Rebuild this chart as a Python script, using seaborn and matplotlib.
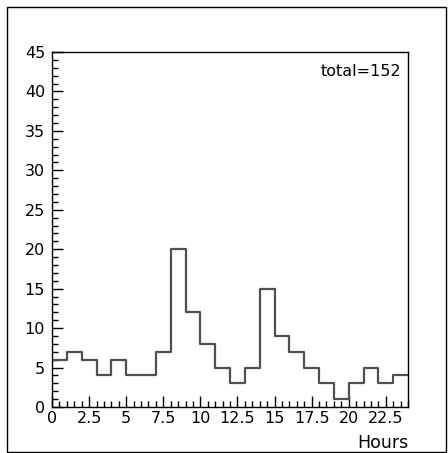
import numpy as np
import pandas as pd
import matplotlib
matplotlib.use("Agg")
import matplotlib.pyplot as plt
from matplotlib.ticker import MultipleLocator
from matplotlib.patches import Rectangle
import seaborn as sns

hours = [0.5, 1.5, 2.5, 3.5, 4.5, 5.5, 6.5, 7.5, 8.5, 9.5, 10.5, 11.5,
         12.5, 13.5, 14.5, 15.5, 16.5, 17.5, 18.5, 19.5, 20.5, 21.5, 22.5, 23.5]
counts = [6, 7, 6, 4, 6, 4, 4, 7, 20, 12, 8, 5,
          3, 5, 15, 9, 7, 5, 3, 1, 3, 5, 3, 4]
bin_edges = list(range(25))
x_ticks = [0, 2.5, 5, 7.5, 10, 12.5, 15, 17.5, 20, 22.5]
x_tick_labels = ["0", "2.5", "5", "7.5", "10", "12.5", "15", "17.5", "20", "22.5"]
y_ticks = [0, 5, 10, 15, 20, 25, 30, 35, 40, 45]

df = pd.DataFrame({"Hours": hours, "count": counts})

sns.set_style("white")
plt.rcParams["font.family"] = ["DejaVu Sans"]
plt.rcParams["text.color"] = "black"
plt.rcParams["axes.labelcolor"] = "black"

W, H = 448, 453
fig = plt.figure(figsize=(W / 100, H / 100), dpi=100)
ax = fig.add_axes([52 / W, 1 - 407 / H, (408 - 52) / W, (407 - 52) / H])

sns.histplot(data=df, x="Hours", weights="count", bins=bin_edges,
             element="step", fill=False, color="#505050", linewidth=1.6, ax=ax)

ax.set_xlim(0, 24)
ax.set_ylim(0, 45)
ax.set_xticks(x_ticks)
ax.set_xticklabels(x_tick_labels)
ax.set_yticks(y_ticks)
ax.xaxis.set_minor_locator(MultipleLocator(0.5))
ax.yaxis.set_minor_locator(MultipleLocator(1))
ax.tick_params(axis="both", which="major", direction="in", length=8, width=1,
               labelsize=11.5, colors="black", bottom=True, left=True, top=False, right=False)
ax.tick_params(axis="both", which="minor", direction="in", length=4, width=1,
               colors="black", bottom=True, left=True, top=False, right=False)
ax.tick_params(axis="x", pad=3)
ax.tick_params(axis="y", pad=5)
for s in ax.spines.values():
    s.set_visible(True)
    s.set_color("black")
    s.set_linewidth(1.0)

ax.set_ylabel("")
ax.set_xlabel("Hours", fontsize=12.5, loc="right", labelpad=6, color="black")
ax.text(0.98, 0.965, f"total={sum(counts)}", transform=ax.transAxes,
        ha="right", va="top", fontsize=11.5, color="black")

fig.patches.append(Rectangle((7 / W, 1 - 452 / H), (446 - 7) / W, (452 - 7) / H,
                             transform=fig.transFigure, fill=False,
                             edgecolor="black", linewidth=1.0))

fig.savefig("out.png", dpi=100)
